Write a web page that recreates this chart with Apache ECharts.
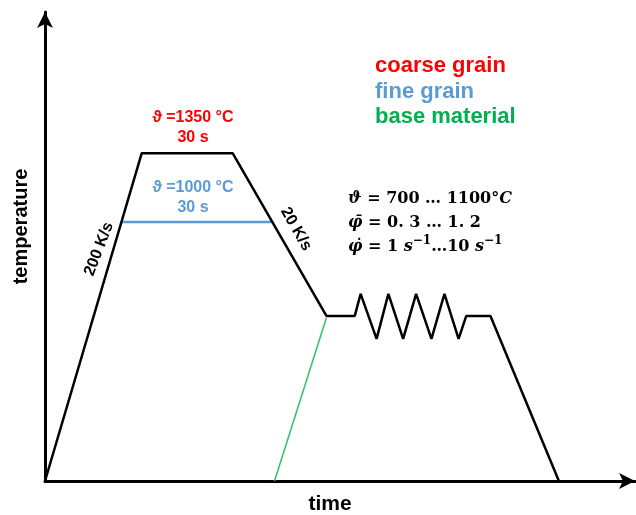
<!DOCTYPE html>
<html>
<head>
<meta charset="utf-8">
<script src="https://cdn.jsdelivr.net/npm/echarts@6/dist/echarts.min.js"></script>
<style>
	html, body { margin: 0; padding: 0; background: #ffffff; }
	#chart { width: 636px; height: 515px; }
</style>
</head>
<body>
<div id="chart"></div>
<script>
/**
 * 热循环示意图（温度-时间）
 * */

//主热循环（时间 / 温度，示意单位 0..100）
var cycleTime = [0, 16.4, 31.8, 47.7, 52.5, 53.5, 56.2, 58.2, 60.7, 62.9, 65.5, 67.7, 70.1, 71.4, 75.5, 87.1];
var cycleTemp = [0, 69.9, 69.9, 35.2, 35.2, 39.9, 30.3, 39.9, 30.3, 39.9, 30.3, 39.9, 30.3, 35.2, 35.2, 0];
//细晶保温线
var fineTime = [13.0, 38.6];
var fineTemp = [55.2, 55.2];
//母材线
var baseTime = [38.9, 47.7];
var baseTemp = [0, 34.8];
//图例文字
var legendNames = ['coarse grain', 'fine grain', 'base material'];
var legendColors = ['#ff0000', '#5b9bd5', '#00b050'];
//标注文字
var coarseNote = ['ϑ =1350 °C', '30 s'];
var fineNote = ['ϑ =1000 °C', '30 s'];
var rateNotes = ['200 K/s', '20 K/s'];
var formulaLines = [
	'{i|ϑ} = 700 … 1100°{i|C}',
	'{i|φ̄} = 0. 3 … 1. 2',
	'{i|φ̇} = 1 {i|s}{sup|−1}…10 {i|s}{sup|−1}'
];

var dom = {
	el: document.getElementById('chart')
}

var render = {
	myChart: echarts.init(dom.el)
}

function pairs(xs, ys) {
	return xs.map(function(x, i) {
		return [x, ys[i]];
	});
}

var sans = '"Liberation Sans", Arial, sans-serif';
var serif = '"DejaVu Serif", serif';

//图形文字
var graphics = [];
legendNames.forEach(function(name, i) {
	graphics.push({
		type: 'text',
		x: 375,
		y: 66 + i * 25.5,
		style: {
			text: name,
			fill: legendColors[i],
			font: 'bold 22px ' + sans,
			align: 'left',
			verticalAlign: 'middle'
		}
	});
});
graphics.push({
	type: 'text',
	x: 193,
	y: 128,
	style: {
		text: coarseNote.join('\n'),
		fill: '#ff0000',
		font: 'bold 16px ' + sans,
		lineHeight: 20,
		align: 'center',
		verticalAlign: 'middle'
	}
});
graphics.push({
	type: 'text',
	x: 193,
	y: 198,
	style: {
		text: fineNote.join('\n'),
		fill: '#5b9bd5',
		font: 'bold 16px ' + sans,
		lineHeight: 20,
		align: 'center',
		verticalAlign: 'middle'
	}
});
graphics.push({
	type: 'text',
	x: 99,
	y: 249,
	rotation: 69 * Math.PI / 180,
	style: {
		text: rateNotes[0],
		fill: '#000000',
		font: 'bold 16px ' + sans,
		align: 'center',
		verticalAlign: 'middle'
	}
});
graphics.push({
	type: 'text',
	x: 296,
	y: 229,
	rotation: -60 * Math.PI / 180,
	style: {
		text: rateNotes[1],
		fill: '#000000',
		font: 'bold 16px ' + sans,
		align: 'center',
		verticalAlign: 'middle'
	}
});
graphics.push({
	type: 'text',
	x: 348,
	y: 223,
	style: {
		text: formulaLines.join('\n'),
		fill: '#000000',
		font: 'bold 16px ' + serif,
		lineHeight: 24,
		align: 'left',
		verticalAlign: 'middle',
		rich: {
			i: {
				fontStyle: 'italic',
				fontWeight: 'bold',
				fontSize: 16,
				fontFamily: serif,
				lineHeight: 24
			},
			sup: {
				fontWeight: 'bold',
				fontSize: 12,
				fontFamily: serif,
				lineHeight: 14,
				verticalAlign: 'top'
			}
		}
	}
});

var option = {
	animation: false,
	backgroundColor: '#ffffff',
	grid: {
		left: 45,
		right: 1,
		top: 12,
		bottom: 34,
		//v6 默认会把轴名称挤进容器，这里关掉
		outerBoundsMode: 'none'
	},
	xAxis: {
		type: 'value',
		min: 0,
		max: 100,
		name: 'time',
		nameLocation: 'middle',
		nameGap: 13,
		nameTextStyle: {
			color: '#000000',
			fontFamily: sans,
			fontWeight: 'bold',
			fontSize: 21,
			padding: [0, 20, 0, 0]
		},
		axisLine: {
			lineStyle: { color: '#000000', width: 3 },
			symbol: ['none', 'arrow'],
			symbolSize: [12, 16]
		},
		axisTick: { show: false },
		axisLabel: { show: false },
		splitLine: { show: false }
	},
	yAxis: {
		type: 'value',
		min: 0,
		max: 100,
		name: 'temperature',
		nameLocation: 'middle',
		nameRotate: 90,
		nameGap: 14,
		nameTextStyle: {
			color: '#000000',
			fontFamily: sans,
			fontWeight: 'bold',
			fontSize: 20,
			padding: [0, 0, 0, 40]
		},
		axisLine: {
			show: true,
			lineStyle: { color: '#000000', width: 3 },
			symbol: ['none', 'arrow'],
			symbolSize: [12, 16]
		},
		axisTick: { show: false },
		axisLabel: { show: false },
		splitLine: { show: false }
	},
	graphic: graphics,
	series: [{
		name: 'thermal cycle',
		type: 'line',
		data: pairs(cycleTime, cycleTemp),
		symbol: 'none',
		lineStyle: { color: '#000000', width: 2.5 },
		z: 3
	}, {
		name: 'fine grain',
		type: 'line',
		data: pairs(fineTime, fineTemp),
		symbol: 'none',
		lineStyle: { color: '#5b9bd5', width: 2.5 },
		z: 2
	}, {
		name: 'base material',
		type: 'line',
		data: pairs(baseTime, baseTemp),
		symbol: 'none',
		lineStyle: { color: '#2fc26a', width: 1.5 },
		z: 2
	}]
};

render.myChart.setOption(option);
</script>
</body>
</html>
